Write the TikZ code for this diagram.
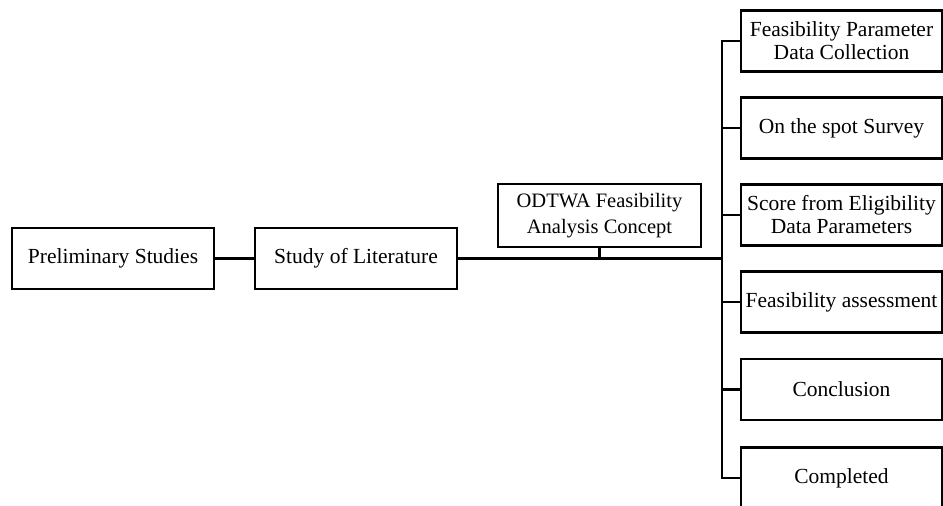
\documentclass[tikz,border=0pt]{standalone}
\usepackage{fontspec}
\setmainfont{Liberation Serif}
\begin{document}
\begin{tikzpicture}[x=1pt,y=-1pt,line width=2.2pt,
  stage/.style={draw,rectangle,minimum width=202pt,minimum height=61pt,inner sep=1pt,
    align=center,font=\fontsize{21.5}{23}\selectfont}]
\useasboundingbox (0,0) rectangle (943,506);
\clip (0,0) rectangle (943,506);
\node[stage] (prelim) at (113,258.5) {Preliminary Studies};
\node[stage] (lit) at (356,258.5) {Study of Literature};
\node[stage,minimum width=203pt,minimum height=63pt,font=\fontsize{20.5}{26}\selectfont]
  (concept) at (599.5,215.5) {ODTWA Feasibility\\Analysis Concept};
\foreach \n/\y/\t in {1/41/{Feasibility Parameter\\Data Collection},
                      2/128/{On the spot Survey},
                      3/215/{Score from Eligibility\\Data Parameters},
                      4/302/{Feasibility assessment},
                      5/389.5/{Conclusion},
                      6/478/{Completed}}
{
    \node[stage,minimum width=201pt] (r\n) at (841.5,\y) {\t};
}
\coordinate (bus) at (722,0);
\draw (prelim) -- (lit);
\draw[line width=3.4pt] (lit.east) -- (bus |- lit.east);
\draw (concept.south) -- (concept.south |- lit.east);
\draw[line width=2.7pt] (r1.west) -- (bus |- r1.west) -- (bus |- r6.west) -- (r6.west);
\foreach \n in {2,...,5}
{
    \draw (bus |- r\n.west) -- (r\n.west);
}
\end{tikzpicture}
\end{document}
